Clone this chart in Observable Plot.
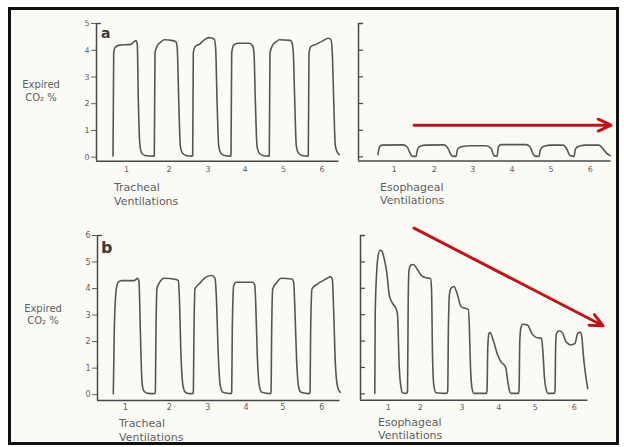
<!DOCTYPE html>
<html><head><meta charset="utf-8">
<script src="https://cdn.jsdelivr.net/npm/d3@7"></script>
<script src="https://cdn.jsdelivr.net/npm/@observablehq/plot@0.6"></script>
<style>
html,body{margin:0;padding:0;background:#fff;}
#page{position:relative;width:624px;height:447px;overflow:hidden;font-family:"DejaVu Sans",sans-serif;}
#frame{position:absolute;left:8px;top:7px;width:611px;height:438px;box-sizing:border-box;border:3px solid #111;background:#fbfbf6;}
#page > svg{position:absolute;}
</style></head><body><div id="page"><div id="frame"></div></div>
<script>
// ---- DATA: expired CO2 % vs time (s) ----
const ventLabels = ["1","2","3","4","5","6"];

const trachealA = [
[1.65,0.04],[1.72,3.9],[1.85,4.1],[2.28,4.19],[3.45,4.22],[3.72,4.31],[3.95,4.36],[4.08,4.22],[4.18,2.17],[4.35,0.43],[4.52,0.16],[4.85,0.06],[5.72,0.04],
[5.78,0.06],[5.85,3.9],[6.05,4.14],[6.45,4.31],[6.78,4.39],[7.62,4.36],[7.95,4.31],[8.08,4.04],[8.22,2.17],[8.38,0.43],[8.58,0.16],[8.95,0.06],[9.55,0.04],
[9.62,0.06],[9.68,3.9],[9.88,4.14],[10.28,4.22],[10.78,4.39],[11.28,4.47],[11.78,4.41],[11.92,4.04],[12.05,2.17],[12.22,0.43],[12.42,0.16],[12.78,0.06],[13.38,0.04],
[13.45,0.06],[13.52,3.9],[13.72,4.19],[14.12,4.26],[15.28,4.26],[15.62,4.16],[15.75,3.9],[15.88,2.17],[16.05,0.43],[16.25,0.16],[16.62,0.06],[17.22,0.04],
[17.28,0.06],[17.35,3.9],[17.55,4.14],[17.95,4.31],[18.28,4.39],[19.38,4.37],[19.55,4.29],[19.68,3.9],[19.82,2.17],[19.98,0.43],[20.18,0.16],[20.55,0.06],[21.12,0.04],
[21.18,0.06],[21.25,3.9],[21.45,4.14],[21.95,4.22],[22.62,4.35],[23.18,4.45],[23.45,4.39],[23.58,3.9],[23.72,2.17],[23.88,0.43],[24.12,0.16],[24.28,0.09]
];
const esophagealA = [
[1.95,0.08],[2.1,0.38],[2.35,0.44],[4.45,0.45],[4.85,0.38],[5.15,0.15],[5.35,0.03],[5.75,0.02],[5.9,0.28],[6.15,0.4],[6.75,0.44],[8.55,0.45],[8.95,0.32],[9.25,0.08],
[9.45,0.02],[9.75,0.02],[9.9,0.28],[10.25,0.38],[11.25,0.42],[12.75,0.42],[13.25,0.32],[13.55,0.05],[13.85,0.02],[14.0,0.38],[14.25,0.46],[16.75,0.46],[17.15,0.38],
[17.45,0.12],[17.65,0.03],[18.05,0.02],[18.2,0.28],[18.55,0.4],[19.25,0.44],[20.45,0.44],[20.85,0.28],[21.15,0.05],[21.55,0.02],[21.7,0.3],[22.05,0.4],[22.75,0.44],
[24.05,0.44],[24.45,0.3],[24.85,0.12],[25.15,0.05]
];
const trachealB = [
[1.58,0.03],[1.68,2.48],[1.88,3.99],[2.08,4.24],[2.42,4.3],[3.68,4.3],[4.02,4.39],[4.15,4.24],[4.28,2.48],[4.45,0.47],[4.62,0.15],[5.02,0.05],[5.68,0.04],
[5.78,0.09],[5.85,2.48],[5.95,4.01],[6.18,4.21],[6.68,4.39],[7.85,4.34],[8.08,4.3],[8.18,3.74],[8.35,1.47],[8.55,0.34],[8.78,0.09],[9.18,0.04],[9.52,0.04],
[9.58,0.09],[9.65,2.48],[9.75,3.99],[10.18,4.18],[10.85,4.43],[11.42,4.49],[11.75,4.39],[11.88,3.74],[12.08,1.47],[12.28,0.34],[12.52,0.09],[13.35,0.04],
[13.42,0.09],[13.48,2.48],[13.62,4.11],[13.85,4.24],[15.52,4.24],[15.72,4.14],[15.82,3.48],[15.98,1.47],[16.18,0.34],[16.42,0.09],[17.28,0.04],
[17.35,0.09],[17.42,2.48],[17.52,3.99],[17.95,4.24],[18.35,4.39],[19.45,4.36],[19.62,4.24],[19.75,3.11],[19.92,1.22],[20.12,0.28],[20.35,0.09],[21.18,0.04],
[21.25,0.09],[21.32,2.48],[21.45,3.99],[22.02,4.18],[22.85,4.36],[23.28,4.45],[23.48,4.36],[23.62,3.11],[23.78,1.22],[24.02,0.28],[24.28,0.09]
];
const esophagealB = [
[1.43,0.02],[1.47,3.0],[1.6,4.5],[1.75,5.2],[1.95,5.44],[2.15,5.4],[2.38,5.1],[2.62,4.62],[2.88,3.74],[3.22,3.42],[3.55,3.23],[3.7,3.0],[3.88,0.96],[4.05,0.25],[4.22,0.04],[4.6,0.02],
[4.7,0.1],[4.77,3.5],[4.85,4.7],[5.05,4.88],[5.28,4.9],[5.72,4.69],[6.05,4.5],[6.55,4.4],[7.0,4.37],[7.1,4.0],[7.2,1.5],[7.33,0.33],[7.55,0.04],[8.6,0.02],
[8.72,0.1],[8.79,2.5],[8.9,3.8],[9.05,4.0],[9.35,4.07],[9.65,3.81],[10.05,3.31],[10.35,3.25],[10.78,3.2],[10.88,2.6],[11.0,1.0],[11.18,0.15],[11.35,0.02],[12.55,0.02],
[12.65,0.1],[12.73,1.8],[12.85,2.29],[12.95,2.33],[13.32,1.97],[13.72,1.47],[14.05,1.21],[14.38,1.09],[14.55,0.96],[14.68,0.6],[14.88,0.14],[15.05,0.02],[15.75,0.02],
[15.85,0.1],[15.93,2.0],[16.03,2.48],[16.22,2.64],[16.72,2.6],[17.12,2.29],[17.55,2.14],[18.1,2.1],[18.22,1.7],[18.4,0.6],[18.6,0.12],[18.75,0.02],[19.35,0.02],
[19.45,0.1],[19.52,1.9],[19.6,2.29],[19.88,2.39],[20.22,2.3],[20.55,1.97],[21.05,1.85],[21.45,1.91],[21.72,2.29],[21.98,2.33],[22.12,2.2],[22.3,1.4],[22.45,0.9],[22.72,0.2]
];

// tick positions (s) of the ventilation numbers
const ticksTrachealA = [3.0, 7.25, 11.15, 14.85, 18.7, 22.55];
const ticksEsophagealA = [3.58, 7.58, 11.42, 15.35, 19.25, 23.18];
const ticksTrachealB = [2.78, 7.18, 11.02, 14.85, 18.52, 22.42];
const ticksEsophagealB = [2.78, 5.98, 10.15, 13.82, 17.48, 21.38];
const yTicksA = [0, 1, 2, 3, 4, 5];
const yTicksB = [0, 1, 2, 3, 4, 5, 6];

// trend arrows (in panel data units)
const arrowA = {x1: 5.55, y1: 1.19, x2: 25.25, y2: 1.19};
const arrowB = {x1: 5.35, y1: 6.28, x2: 24.25, y2: 2.58};

// ---- STYLE ----
const AXIS = "#474747", TRACE = "#555555", TEXT = "#5e5e5e", RED = "#c0141c";
const page = document.getElementById("page");

function drawPanel(p) {
  const innerW = p.box.right - p.box.left;
  const innerH = p.box.bottom - p.box.top;
  const m = p.margin;
  const marks = [
    Plot.ruleX([0], {stroke: AXIS, strokeWidth: 1.5}),
    Plot.ruleY([p.yDomain[0]], {stroke: AXIS, strokeWidth: 1.5}),
    Plot.tickY([p.yDomain[1]], {y: d => d, insetRight: innerW - 5, stroke: AXIS, strokeWidth: 1.3}),
    Plot.axisX(p.xTicks, {tickSize: 0, tickPadding: p.xPad, fontSize: 8, color: TEXT, label: null,
      tickFormat: d => ventLabels[p.xTicks.indexOf(d)]}),
    Plot.line(p.data, {x: d => d[0], y: d => d[1], stroke: TRACE, strokeWidth: 1.6, curve: "monotone-x"}),
    Plot.text([p.xTitle], {frameAnchor: "bottom-left", text: d => d, textAnchor: "start", lineAnchor: "middle",
      dx: p.xTitleDx, dy: p.xTitleDy, fontSize: 11, lineHeight: p.xTitleLH, fill: TEXT})
  ];
  if (p.yLabels) {
    marks.push(Plot.axisY(p.yTicks, {tickSize: 5, tickPadding: 2, fontSize: 8, color: TEXT, label: null, tickFormat: d => String(d)}));
    marks.push(Plot.text([p.yTitle], {frameAnchor: "left", text: d => d, textAnchor: "middle", lineAnchor: "middle",
      dx: p.yTitleDx, dy: p.yTitleDy, fontSize: 10, lineHeight: 1.25, fill: TEXT}));
    marks.push(Plot.text([p.letter], {frameAnchor: "top-left", text: d => d, textAnchor: "start", lineAnchor: "middle",
      dx: p.letterDx, dy: p.letterDy, fontSize: p.letterSize, fontWeight: "bold", fill: "#3a3a3a"}));
  } else {
    marks.push(Plot.tickY(p.yTicks, {y: d => d, insetRight: innerW - 5, stroke: AXIS, strokeWidth: 1.2}));
  }
  if (p.arrow) {
    marks.push(Plot.arrow([p.arrow], {x1: "x1", y1: "y1", x2: "x2", y2: "y2", stroke: RED, strokeWidth: 3, headLength: 7, headAngle: 50}));
  }
  const svg = Plot.plot({
    width: m.l + innerW + m.r, height: m.t + innerH + m.b,
    marginLeft: m.l, marginRight: m.r, marginTop: m.t, marginBottom: m.b,
    x: {domain: p.xDomain, axis: null},
    y: {domain: p.yDomain, axis: null},
    style: {background: "transparent", overflow: "visible", fontFamily: "DejaVu Sans, sans-serif", color: TEXT},
    marks
  });
  svg.style.position = "absolute";
  svg.style.left = (p.box.left - m.l) + "px";
  svg.style.top = (p.box.top - m.t) + "px";
  svg.style.maxWidth = "none";
  page.appendChild(svg);
}

drawPanel({data: trachealA, xTicks: ticksTrachealA, xDomain: [0, 24.25], yDomain: [-0.15, 5], yTicks: yTicksA, yLabels: true,
  box: {left: 95.5, right: 338, top: 23, bottom: 160.7}, margin: {l: 90, t: 16, r: 10, b: 48}, xPad: 5,
  xTitle: "Tracheal\nVentilations", xTitleDx: 17.5, xTitleDy: 32.6, xTitleLH: 1.22,
  yTitle: "Expired\nCO₂ %", yTitleDx: -55.5, yTitleDy: -2, letter: "a", letterSize: 14, letterDx: 4.5, letterDy: 10});
drawPanel({data: esophagealA, xTicks: ticksEsophagealA, xDomain: [0, 25.25], yDomain: [-0.15, 5], yTicks: yTicksA, yLabels: false,
  box: {left: 357.5, right: 610, top: 23.3, bottom: 160.7}, margin: {l: 12, t: 16, r: 12, b: 48}, xPad: 5,
  xTitle: "Esophageal\nVentilations", xTitleDx: 21.5, xTitleDy: 32.6, xTitleLH: 1.22, arrow: arrowA});
drawPanel({data: trachealB, xTicks: ticksTrachealB, xDomain: [0, 24.25], yDomain: [-0.22, 6], yTicks: yTicksB, yLabels: true,
  box: {left: 96.5, right: 339, top: 234.7, bottom: 399.7}, margin: {l: 90, t: 14, r: 10, b: 44}, xPad: 4,
  xTitle: "Tracheal\nVentilations", xTitleDx: 21.5, xTitleDy: 29.2, xTitleLH: 1.3,
  yTitle: "Expired\nCO₂ %", yTitleDx: -54.5, yTitleDy: -4.2, letter: "b", letterSize: 16, letterDx: 3.5, letterDy: 12.3});
drawPanel({data: esophagealB, xTicks: ticksEsophagealB, xDomain: [0, 22.75], yDomain: [-0.24, 6], yTicks: yTicksB, yLabels: false,
  box: {left: 359.5, right: 587, top: 235.3, bottom: 400}, margin: {l: 12, t: 16, r: 28, b: 44}, xPad: 4,
  xTitle: "Esophageal\nVentilations", xTitleDx: 17.5, xTitleDy: 28, xTitleLH: 1.15, arrow: arrowB});
</script></body></html>
